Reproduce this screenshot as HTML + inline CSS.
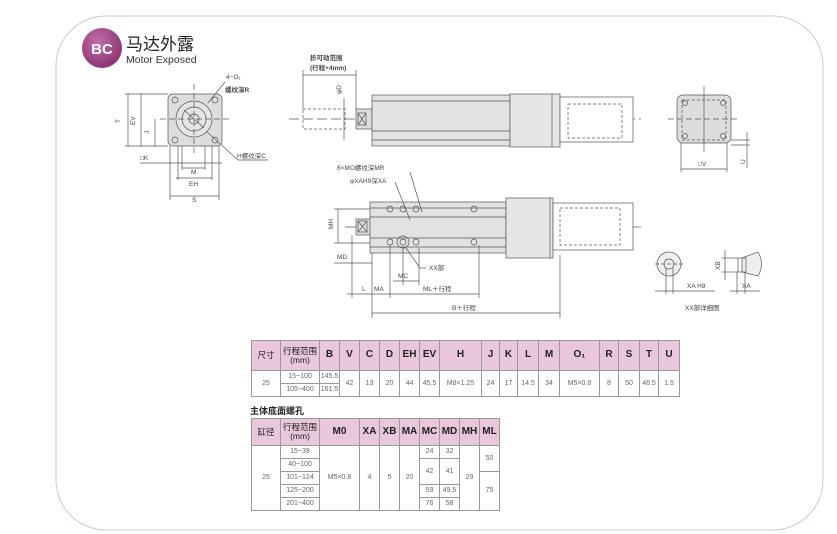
<!DOCTYPE html>
<html><head><meta charset="utf-8"><style>
html,body{margin:0;padding:0;background:#fff;}
body{width:837px;height:534px;position:relative;overflow:hidden;font-family:"Liberation Sans","Noto Sans CJK SC",sans-serif;}
svg text{font-family:"Liberation Sans","Noto Sans CJK SC",sans-serif;}
table{position:absolute;border-collapse:collapse;font-size:9px;color:#333;table-layout:fixed;}
td{border:1px solid #999;text-align:center;padding:0;line-height:1.05;white-space:nowrap;overflow:hidden;}
tr.h td{background:#e8c6dc;font-weight:bold;font-size:10px;color:#222;}
tr.h td.c{font-size:8.5px;font-weight:normal;}
td.s{font-size:7px;color:#666;font-weight:normal;}
</style></head><body>
<svg width="837" height="534" viewBox="0 0 837 534" style="position:absolute;left:0;top:0">
<defs><radialGradient id="g" cx="40%" cy="35%" r="70%"><stop offset="0" stop-color="#c070a8"/><stop offset="1" stop-color="#8a2f70"/></radialGradient></defs>
<rect x="56" y="16" width="767" height="514" rx="50" fill="none" stroke="#d9c4d2" stroke-width="1"/>
<circle cx="102" cy="48" r="20" fill="url(#g)"/>
<text x="102" y="54" text-anchor="middle" font-size="15" font-weight="bold" fill="#fff">BC</text>
<text x="126" y="50" font-size="17" fill="#222">马达外露</text>
<text x="126" y="63" font-size="10.5" fill="#333">Motor Exposed</text>
<g stroke="#555" stroke-width="0.7" fill="none">
<rect x="168" y="94" width="54" height="52" rx="5" fill="#ddd"/>
<circle cx="194" cy="119" r="18" fill="#e4e4e4"/><circle cx="194" cy="119" r="12"/><circle cx="194" cy="119" r="5"/>
<line x1="184" y1="110" x2="204" y2="128"/>
<circle cx="175" cy="100" r="3"/><circle cx="215" cy="100" r="3"/><circle cx="175" cy="140" r="3"/><circle cx="215" cy="140" r="3"/>
<line x1="160" y1="119" x2="232" y2="119" stroke-dasharray="6,3"/><line x1="194" y1="84" x2="194" y2="155" stroke-dasharray="6,3"/>
<line x1="125" y1="94" x2="168" y2="94"/><line x1="125" y1="146" x2="168" y2="146"/>
<line x1="128" y1="94" x2="128" y2="146"/><line x1="141" y1="94" x2="141" y2="146"/><line x1="155" y1="119" x2="155" y2="146"/>
<line x1="140" y1="163" x2="222" y2="163"/>
<line x1="170" y1="146" x2="170" y2="200"/><line x1="219" y1="146" x2="219" y2="200"/>
<line x1="178" y1="146" x2="178" y2="180"/><line x1="212" y1="146" x2="212" y2="180"/>
<line x1="182" y1="146" x2="182" y2="170"/><line x1="205" y1="146" x2="205" y2="170"/>
<line x1="182" y1="168" x2="205" y2="168"/><line x1="176" y1="178" x2="212" y2="178"/><line x1="170" y1="196" x2="219" y2="196"/>
<line x1="207" y1="132" x2="238" y2="160"/><line x1="238" y1="160" x2="268" y2="160"/>
<line x1="208" y1="103" x2="225" y2="82"/>
<line x1="289" y1="119" x2="641" y2="119" stroke-dasharray="10,4"/>
<rect x="303" y="109" width="42" height="20" stroke-dasharray="3,2"/>
<rect x="356" y="109" width="16" height="20" fill="#ddd"/>
<rect x="358" y="113" width="8" height="12"/><line x1="358" y1="113" x2="366" y2="125"/><line x1="366" y1="113" x2="358" y2="125"/>
<rect x="372" y="95" width="138" height="51" fill="#e2e2e2"/>
<line x1="372" y1="101" x2="510" y2="101"/><line x1="372" y1="131" x2="510" y2="131"/><line x1="372" y1="140" x2="510" y2="140"/>
<rect x="510" y="94" width="50" height="53" fill="#e6e6e6"/>
<line x1="552" y1="94" x2="552" y2="147"/>
<rect x="560" y="97" width="73" height="45" fill="#fff"/>
<rect x="568" y="104" width="54" height="34" stroke-dasharray="3,2"/>
<line x1="303" y1="75" x2="356" y2="75"/><line x1="303" y1="70" x2="303" y2="109"/><line x1="356" y1="70" x2="356" y2="109"/>
<line x1="344" y1="98" x2="344" y2="140"/>
<line x1="345" y1="227" x2="641" y2="227" stroke-dasharray="12,4"/>
<rect x="356" y="219" width="15" height="16" fill="#ddd"/>
<rect x="358" y="221" width="9" height="11"/><line x1="358" y1="221" x2="367" y2="232"/><line x1="367" y1="221" x2="358" y2="232"/>
<rect x="370" y="202" width="136" height="51" fill="#e2e2e2"/>
<line x1="370" y1="208" x2="506" y2="208"/><line x1="370" y1="217" x2="506" y2="217"/><line x1="370" y1="238" x2="506" y2="238"/><line x1="370" y1="247" x2="506" y2="247"/>
<rect x="506" y="198" width="47" height="60" fill="#e6e6e6"/><line x1="550" y1="198" x2="550" y2="258"/>
<rect x="553" y="203" width="80" height="47" fill="#fff"/>
<rect x="560" y="208" width="60" height="37" stroke-dasharray="3,2"/>
<circle cx="390" cy="209" r="3"/><circle cx="403" cy="209" r="3"/><circle cx="416" cy="209" r="3"/><circle cx="474" cy="209" r="3"/>
<circle cx="390" cy="242" r="3"/><circle cx="403" cy="242" r="6"/><circle cx="403" cy="242" r="3"/><circle cx="416" cy="242" r="3"/><circle cx="474" cy="242" r="3"/>
<line x1="334" y1="209" x2="370" y2="209"/><line x1="334" y1="243" x2="370" y2="243"/><line x1="338" y1="209" x2="338" y2="243"/>
<line x1="395" y1="182" x2="410" y2="220"/><line x1="410" y1="172" x2="422" y2="212"/>
<line x1="352" y1="235" x2="352" y2="298"/><line x1="372" y1="253" x2="372" y2="318"/><line x1="390" y1="245" x2="390" y2="298"/><line x1="403" y1="248" x2="403" y2="285"/><line x1="419" y1="248" x2="419" y2="285"/><line x1="479" y1="245" x2="479" y2="298"/><line x1="560" y1="255" x2="560" y2="318"/>
<line x1="334" y1="263" x2="372" y2="263"/><line x1="393" y1="281" x2="419" y2="281"/><line x1="347" y1="294" x2="479" y2="294"/><line x1="372" y1="313" x2="560" y2="313"/>
<line x1="406" y1="248" x2="420" y2="268"/><line x1="420" y1="268" x2="426" y2="268"/>
<rect x="677" y="95" width="54" height="48" rx="6" fill="#ddd"/>
<rect x="682" y="100" width="44" height="40" stroke-dasharray="3,2"/>
<line x1="668" y1="119" x2="740" y2="119" stroke-dasharray="6,3"/><line x1="704" y1="86" x2="704" y2="152"/>
<circle cx="685" cy="103" r="2.5"/><circle cx="723" cy="103" r="2.5"/><circle cx="685" cy="136" r="2.5"/><circle cx="723" cy="136" r="2.5"/>
<line x1="681" y1="143" x2="681" y2="172"/><line x1="727" y1="143" x2="727" y2="172"/><line x1="681" y1="169" x2="727" y2="169"/>
<line x1="731" y1="140" x2="750" y2="140"/><line x1="731" y1="145" x2="750" y2="145"/><line x1="747" y1="132" x2="747" y2="168"/>
<circle cx="669" cy="264" r="12" fill="#eee"/><circle cx="669" cy="264" r="5"/>
<line x1="655" y1="264" x2="683" y2="264" stroke-dasharray="4,2"/>
<line x1="666" y1="268" x2="666" y2="294"/><line x1="673" y1="268" x2="673" y2="294"/><line x1="655" y1="291" x2="715" y2="291"/>
<path d="M742 258 L758 252 Q765 264 758 276 L742 272 Z" fill="#eee"/>
<rect x="738" y="258" width="8" height="14"/>
<line x1="722" y1="258" x2="738" y2="258"/><line x1="722" y1="272" x2="738" y2="272"/><line x1="725" y1="250" x2="725" y2="280"/>
<line x1="730" y1="291" x2="760" y2="291"/><line x1="737" y1="272" x2="737" y2="294"/><line x1="745" y1="272" x2="745" y2="294"/>
</g>
<g font-size="6.5" fill="#444">
<text x="226" y="79">4−O₁</text><text x="225" y="92" font-weight="bold">螺纹深R</text>
<text x="237" y="158">H螺纹深C</text>
<text x="120" y="123" transform="rotate(-90 120 123)">T</text>
<text x="135" y="125" transform="rotate(-90 135 125)">EV</text>
<text x="149" y="134" transform="rotate(-90 149 134)">J</text>
<text x="140" y="160">□K</text><text x="191" y="174">M</text><text x="189" y="186">EH</text><text x="192" y="202">S</text>
<text x="310" y="60" font-weight="bold">折可动范围</text><text x="310" y="70" font-weight="bold">(行程+4mm)</text>
<text x="341" y="94" transform="rotate(-90 341 94)">φD</text>
<text x="337" y="170">6×MO螺纹深MR</text><text x="350" y="183">φXAH9深XA</text>
<text x="333" y="229" transform="rotate(-90 333 229)">MH</text>
<text x="337" y="259">MD</text><text x="398" y="278">MC</text><text x="429" y="270">XX部</text>
<text x="362" y="291">L</text><text x="374" y="291">MA</text><text x="423" y="291">ML＋行程</text><text x="452" y="310">B＋行程</text>
<text x="698" y="166">□V</text><text x="745" y="164" transform="rotate(-90 745 164)">U</text>
<text x="687" y="288">XA H9</text><text x="742" y="288">XA</text><text x="720" y="270" transform="rotate(-90 720 270)">XB</text>
<text x="685" y="310">XX部详细图</text>
</g>
<text x="250" y="414" font-size="9" font-weight="bold" fill="#222">主体底面螺孔</text>
</svg>
<table style="left:251px;top:340px;width:428px;">
<colgroup><col style="width:29px"><col style="width:39px"><col style="width:20px"><col style="width:20px"><col style="width:20px"><col style="width:20px"><col style="width:20px"><col style="width:20px"><col style="width:42px"><col style="width:18px"><col style="width:18px"><col style="width:21px"><col style="width:21px"><col style="width:40px"><col style="width:19px"><col style="width:21px"><col style="width:19px"><col style="width:21px"></colgroup>
<tr class="h" style="height:30px"><td class="c">尺寸</td><td class="c">行程范围<br>(mm)</td><td>B</td><td>V</td><td>C</td><td>D</td><td>EH</td><td>EV</td><td>H</td><td>J</td><td>K</td><td>L</td><td>M</td><td>O₁</td><td>R</td><td>S</td><td>T</td><td>U</td></tr>
<tr style="height:13px"><td rowspan="2" class="s">25</td><td class="s">15~100</td><td class="s">145.5</td><td rowspan="2" class="s">42</td><td rowspan="2" class="s">13</td><td rowspan="2" class="s">20</td><td rowspan="2" class="s">44</td><td rowspan="2" class="s">45.5</td><td rowspan="2" class="s">M8×1.25</td><td rowspan="2" class="s">24</td><td rowspan="2" class="s">17</td><td rowspan="2" class="s">14.5</td><td rowspan="2" class="s">34</td><td rowspan="2" class="s">M5×0.8</td><td rowspan="2" class="s">8</td><td rowspan="2" class="s">50</td><td rowspan="2" class="s">46.5</td><td rowspan="2" class="s">1.5</td></tr>
<tr style="height:13px"><td class="s">105~400</td><td class="s">161.5</td></tr>
</table>
<table style="left:251px;top:418px;width:248px;">
<colgroup><col style="width:29px"><col style="width:39px"><col style="width:40px"><col style="width:20px"><col style="width:20px"><col style="width:20px"><col style="width:20px"><col style="width:20px"><col style="width:20px"><col style="width:20px"></colgroup>
<tr class="h" style="height:27px"><td class="c">缸径</td><td class="c">行程范围<br>(mm)</td><td>M0</td><td>XA</td><td>XB</td><td>MA</td><td>MC</td><td>MD</td><td>MH</td><td>ML</td></tr>
<tr style="height:13px"><td rowspan="5" class="s">25</td><td class="s">15~39</td><td rowspan="5" class="s">M5×0.8</td><td rowspan="5" class="s">4</td><td rowspan="5" class="s">5</td><td rowspan="5" class="s">20</td><td class="s">24</td><td class="s">32</td><td rowspan="5" class="s">29</td><td rowspan="2" class="s">50</td></tr>
<tr style="height:13px"><td class="s">40~100</td><td rowspan="2" class="s">42</td><td rowspan="2" class="s">41</td></tr>
<tr style="height:13px"><td class="s">101~124</td><td rowspan="3" class="s">75</td></tr>
<tr style="height:13px"><td class="s">125~200</td><td class="s">59</td><td class="s">49.5</td></tr>
<tr style="height:13px"><td class="s">201~400</td><td class="s">76</td><td class="s">58</td></tr>
</table>
</body></html>
